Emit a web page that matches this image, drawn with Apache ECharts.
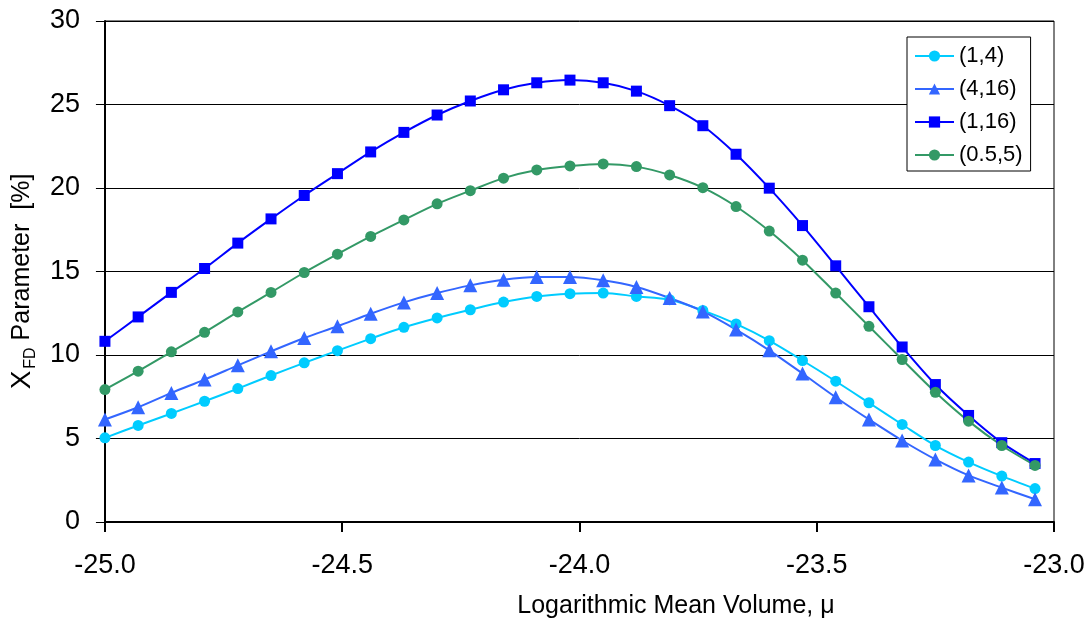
<!DOCTYPE html>
<html>
<head>
<meta charset="utf-8">
<script src="https://cdn.jsdelivr.net/npm/echarts@6/dist/echarts.min.js"></script>
<style>
  html, body { margin: 0; padding: 0; background: #fff; }
  #chart { width: 1089px; height: 624px; }
</style>
</head>
<body>
<div id="chart"></div>
<script>
// Logarithmic mean volume (x) at each computed point
var muValues = [-25.00, -24.93, -24.86, -24.79, -24.72, -24.65, -24.58, -24.51, -24.44, -24.37,
                -24.30, -24.23, -24.16, -24.09, -24.02, -23.95, -23.88, -23.81, -23.74, -23.67,
                -23.60, -23.53, -23.46, -23.39, -23.32, -23.25, -23.18, -23.11, -23.04];

// X_FD parameter [%] for each frequency pair
var seriesNames = ['(1,4)', '(4,16)', '(1,16)', '(0.5,5)'];
var xfd_1_4 = [5.04, 5.78, 6.50, 7.23, 7.99, 8.77, 9.53, 10.26, 10.98, 11.66,
               12.22, 12.71, 13.17, 13.51, 13.67, 13.71, 13.51, 13.31, 12.67, 11.86,
               10.86, 9.67, 8.43, 7.14, 5.84, 4.58, 3.59, 2.75, 2.00];
var xfd_4_16 = [6.14, 6.87, 7.73, 8.53, 9.38, 10.22, 11.02, 11.72, 12.47, 13.15,
                13.71, 14.17, 14.51, 14.67, 14.67, 14.47, 14.07, 13.41, 12.61, 11.52,
                10.28, 8.89, 7.47, 6.14, 4.88, 3.75, 2.79, 2.06, 1.36];
var xfd_1_16 = [10.82, 12.28, 13.75, 15.18, 16.70, 18.15, 19.55, 20.86, 22.16, 23.33,
                24.37, 25.21, 25.88, 26.30, 26.46, 26.30, 25.80, 24.93, 23.73, 22.02,
                19.99, 17.75, 15.34, 12.89, 10.48, 8.23, 6.38, 4.75, 3.50];
var xfd_05_5 = [7.93, 9.03, 10.19, 11.36, 12.58, 13.75, 14.94, 16.04, 17.10, 18.09,
                19.05, 19.84, 20.59, 21.08, 21.32, 21.44, 21.28, 20.78, 20.02, 18.89,
                17.42, 15.68, 13.71, 11.72, 9.73, 7.77, 6.04, 4.58, 3.39];

var FONT = "'Liberation Sans', Arial, sans-serif";

function pairs(ys) {
  return muValues.map(function (x, i) { return [x, ys[i]]; });
}

function lineSeries(name, ys, color, symbol, size) {
  return {
    name: name,
    type: 'line',
    data: pairs(ys),
    smooth: 0.3,
    symbol: symbol,
    symbolSize: size,
    showAllSymbol: true,
    lineStyle: { color: color, width: 2 },
    itemStyle: { color: color, borderWidth: 0 },
    emphasis: { disabled: true },
    z: 3
  };
}

var chart = echarts.init(document.getElementById('chart'), null, { renderer: 'canvas' });

chart.setOption({
  animation: false,
  backgroundColor: '#ffffff',
  textStyle: { fontFamily: FONT, color: '#000' },
  grid: {
    left: 102, right: 35, top: 21, bottom: 102,
    show: true, borderColor: '#000', borderWidth: 1,
    containLabel: false
  },
  legend: {
    orient: 'vertical',
    left: 907, top: 37,
    padding: [8, 8, 5, 7],
    backgroundColor: '#fff',
    borderColor: '#000',
    borderWidth: 1,
    itemWidth: 39,
    itemHeight: 14,
    itemGap: 11,
    lineStyle: { width: 2 },
    textStyle: { fontFamily: FONT, fontSize: 22, color: '#000', lineHeight: 22 },
    data: seriesNames
  },
  xAxis: {
    type: 'value',
    min: -25, max: -23, interval: 0.5,
    axisLine: { show: true, onZero: false, lineStyle: { color: '#000', width: 2 } },
    axisTick: { show: true, inside: false, length: 10, lineStyle: { color: '#000', width: 2 } },
    axisLabel: {
      margin: 30, fontSize: 27, fontFamily: FONT, color: '#000',
      formatter: function (v) { return v.toFixed(1); }
    },
    splitLine: { show: false },
    name: 'Logarithmic Mean Volume, \u03bc',
    nameLocation: 'middle',
    nameGap: 72,
    nameTextStyle: { fontSize: 25, fontFamily: FONT, color: '#000', padding: [0, 0, 0, 193] }
  },
  yAxis: {
    type: 'value',
    min: 0, max: 30, interval: 5,
    axisLine: { show: true, lineStyle: { color: '#000', width: 2 } },
    axisTick: { show: true, inside: false, length: 9, lineStyle: { color: '#000', width: 1 } },
    axisLabel: { margin: 25, fontSize: 27, fontFamily: FONT, color: '#000' },
    splitLine: { show: true, lineStyle: { color: '#000', width: 1 } },
    name: '{x|X}{sub|FD} Parameter  [%]',
    nameLocation: 'middle',
    nameGap: 56,
    nameTextStyle: {
      fontSize: 25, fontFamily: FONT, color: '#000',
      padding: [0, 20, 0, 0],
      rich: {
        x: { fontSize: 28, fontFamily: FONT, color: '#000' },
        sub: { fontSize: 16, fontFamily: FONT, color: '#000', verticalAlign: 'bottom', padding: [0, 0, -3, 2] }
      }
    }
  },
  series: [
    lineSeries(seriesNames[0], xfd_1_4, '#00CCFF', 'circle', 11),
    lineSeries(seriesNames[1], xfd_4_16, '#3366FF', 'triangle', 14),
    lineSeries(seriesNames[2], xfd_1_16, '#0000FF', 'rect', 11),
    lineSeries(seriesNames[3], xfd_05_5, '#339966', 'circle', 11)
  ]
});
</script>
</body>
</html>
